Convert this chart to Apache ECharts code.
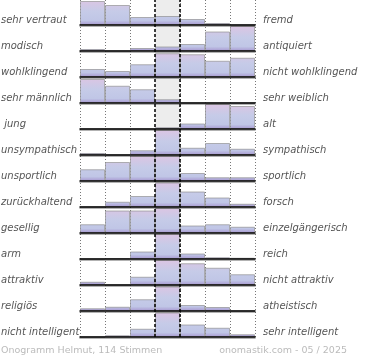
<!DOCTYPE html>
<html><head><meta charset="utf-8">
<script src="https://cdn.jsdelivr.net/npm/echarts@6/dist/echarts.min.js"></script>
<style>html,body{margin:0;padding:0;background:#fff}#c{width:370px;height:360px}</style>
</head><body><div id="c"></div>
<script>
// ---- data ----
const scaleSteps = ['1','2','3','4','5','6','7'];
const leftLabels = ['sehr vertraut','modisch','wohlklingend','sehr männlich',' jung','unsympathisch','unsportlich','zurückhaltend','gesellig','arm','attraktiv','religiös','nicht intelligent'];
const rightLabels = ['fremd','antiquiert','nicht wohlklingend','sehr weiblich','alt','sympathisch','sportlich','forsch','einzelgängerisch','reich','nicht attraktiv','atheistisch','sehr intelligent'];
const vertrautFremd        = [96, 80, 32, 36, 24, 8, 0];
const modischAntiquiert    = [8, 0, 12, 18, 28, 78, 100];
const wohlklingend         = [32, 24, 51, 95, 91, 65, 77];
const maennlichWeiblich    = [96, 69, 55, 15, 0, 0, 0];
const jungAlt              = [0, 0, 0, 7, 22, 100, 92];
const sympathisch          = [8, 0, 19, 100, 29, 48, 25];
const sportlich            = [47, 76, 100, 100, 32, 15, 15];
const zurueckhaltendForsch = [0, 21, 44, 98, 62, 38, 13];
const geselligEinzel       = [35, 90, 90, 100, 30, 35, 25];
const armReich             = [0, 3, 30, 100, 22, 7, 5];
const attraktiv            = [13, 0, 33, 100, 87, 69, 43];
const religioesAtheist     = [11, 17, 47, 98, 24, 16, 0];
const intelligent          = [0, 7, 33, 98, 50, 37, 11];
const footerLeft = 'Onogramm Helmut, 114 Stimmen';
const footerRight = 'onomastik.com - 05 / 2025';

const rows = [vertrautFremd, modischAntiquiert, wohlklingend, maennlichWeiblich, jungAlt, sympathisch,
  sportlich, zurueckhaltendForsch, geselligEinzel, armReich, attraktiv, religioesAtheist, intelligent];

// ---- layout ----
const ROW = 26, BAR_H = 25, LEFT = 80, W = 175;
const n = rows.length;
const grids = [], xAxes = [], yAxes = [], series = [], graphics = [];
const labelFont = 'italic 10px "DejaVu Sans"';

rows.forEach((vals, i) => {
  const top = ROW * i;
  grids.push({left: LEFT, width: W, top: top, height: BAR_H});
  xAxes.push({type: 'category', gridIndex: i, data: scaleSteps, z: 4,
    axisLine: {show: true, lineStyle: {color: '#000', width: 1.5, shadowColor: 'rgba(0,0,0,0.3)', shadowOffsetY: 1.2, shadowBlur: 0}},
    axisTick: {show: false}, axisLabel: {show: false}, splitLine: {show: false}});
  yAxes.push({type: 'value', gridIndex: i, min: 0, max: 100, show: false});
  series.push({type: 'bar', xAxisIndex: i, yAxisIndex: i, data: vals, barCategoryGap: '0%',
    silent: true,
    itemStyle: {
      color: new echarts.graphic.LinearGradient(0, top, 0, top + BAR_H, [
        {offset: 0, color: '#dcc5e3'},
        {offset: 0.45, color: '#c6cbe8'},
        {offset: 0.82, color: '#c0c6e6'},
        {offset: 1, color: '#a797d0'}
      ], true),
      borderColor: 'rgba(140,140,140,0.65)', borderWidth: 1
    }});
  graphics.push({type: 'text', x: 1, y: top + 20, silent: true,
    style: {text: leftLabels[i], font: labelFont, fill: '#555', verticalAlign: 'middle'}});
  graphics.push({type: 'text', x: 263, y: top + 20, silent: true,
    style: {text: rightLabels[i], font: labelFont, fill: '#555', verticalAlign: 'middle'}});
});

// background grid with column lines
grids.push({left: LEFT, width: W, top: 0, height: ROW * (n - 1) + BAR_H});
xAxes.push({type: 'value', gridIndex: n, min: 0, max: 7, interval: 1, z: 0,
  axisLine: {show: false}, axisTick: {show: false}, axisLabel: {show: false},
  splitLine: {show: true, lineStyle: {color: '#777', width: 1, type: [1, 2]}}});
yAxes.push({type: 'value', gridIndex: n, min: 0, max: 1, show: false});
series.push({type: 'line', xAxisIndex: n, yAxisIndex: n, data: [], silent: true,
  markArea: {silent: true, itemStyle: {color: '#ededed'}, data: [[{xAxis: 3}, {xAxis: 4}]]}});
series.push({type: 'line', xAxisIndex: n, yAxisIndex: n, data: [], silent: true,
  markLine: {silent: true, symbol: ['none', 'none'], label: {show: false}, z: 6,
    lineStyle: {color: '#000', type: [3, 2], width: 1.5}, data: [{xAxis: 3}, {xAxis: 4}]}});

graphics.push({type: 'text', x: 1, y: 351, silent: true,
  style: {text: footerLeft, font: '9.5px "DejaVu Sans"', fill: '#bbb', verticalAlign: 'middle'}});
graphics.push({type: 'text', x: 347, y: 351, silent: true,
  style: {text: footerRight, font: '9.5px "DejaVu Sans"', fill: '#bbb', verticalAlign: 'middle', align: 'right'}});

const chart = echarts.init(document.getElementById('c'), null, {renderer: 'canvas'});
chart.setOption({
  animation: false,
  backgroundColor: '#fff',
  grid: grids, xAxis: xAxes, yAxis: yAxes, series: series,
  graphic: graphics
});
</script></body></html>
